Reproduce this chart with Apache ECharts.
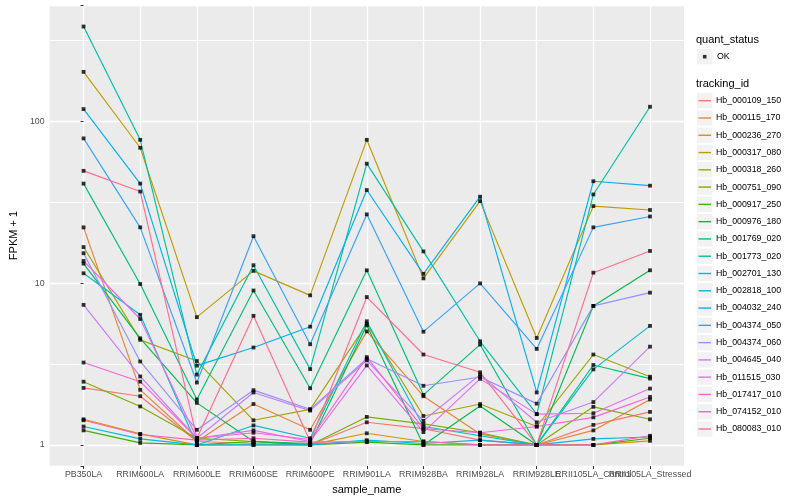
<!DOCTYPE html>
<html>
<head>
<meta charset="utf-8">
<script src="https://cdn.jsdelivr.net/npm/echarts/dist/echarts.min.js"></script>
<style>
  html, body { margin: 0; padding: 0; background: #ffffff; }
  #chart { width: 800px; height: 500px; }
</style>
</head>
<body>
<div id="chart"></div>
<script>
// ---------------- data ----------------
const categories = ['PB350LA', 'RRIM600LA', 'RRIM600LE', 'RRIM600SE', 'RRIM600PE', 'RRIM901LA',
  'RRIM928BA', 'RRIM928LA', 'RRIM928LE', 'RRII105LA_Control', 'RRII105LA_Stressed'];
const yTicks = [1, 10, 100];
const trackingIds = ['Hb_000109_150', 'Hb_000115_170', 'Hb_000236_270', 'Hb_000317_080', 'Hb_000318_260',
  'Hb_000751_090', 'Hb_000917_250', 'Hb_000976_180', 'Hb_001769_020', 'Hb_001773_020', 'Hb_002701_130',
  'Hb_002818_100', 'Hb_004032_240', 'Hb_004374_050', 'Hb_004374_060', 'Hb_004645_040', 'Hb_011515_030',
  'Hb_017417_010', 'Hb_074152_010', 'Hb_080083_010'];
const quantStatus = ['OK'];

// FPKM + 1 per sample (order of categories)
const hb_000109_150 = [2.25, 2.0, 1.05, 1.02, 1.0, 1.38, 1.26, 1.07, 1.0, 1.33, 1.60];
const hb_000115_170 = [22.1, 2.19, 1.05, 1.79, 1.24, 5.03, 2.0, 1.17, 1.0, 1.23, 1.91];
const hb_000236_270 = [1.44, 1.17, 1.0, 1.0, 1.0, 1.18, 1.05, 1.0, 1.0, 1.0, 1.06];
const hb_000317_080 = [202, 68.6, 6.16, 11.9, 8.4, 76.8, 10.7, 32.1, 4.58, 29.9, 28.3];
const hb_000318_260 = [16.7, 4.46, 3.30, 1.42, 1.66, 5.6, 1.51, 1.79, 1.30, 3.62, 2.64];
const hb_000751_090 = [2.46, 1.73, 1.1, 1.05, 1.0, 1.49, 1.35, 1.19, 1.0, 1.72, 1.44];
const hb_000917_250 = [1.23, 1.03, 1.0, 1.05, 1.0, 1.04, 1.0, 1.0, 1.0, 1.0, 1.10];
const hb_000976_180 = [13.2, 4.56, 1.82, 1.05, 1.02, 5.49, 1.0, 1.74, 1.0, 7.23, 12.0];
const hb_001769_020 = [41.2, 9.87, 1.91, 9.0, 2.24, 12.0, 2.04, 4.17, 1.0, 3.12, 2.57];
const hb_001773_020 = [385, 76.8, 2.72, 12.9, 2.94, 54.7, 15.7, 4.37, 1.55, 35.3, 123];
const hb_002701_130 = [11.5, 6.37, 1.0, 1.32, 1.1, 5.81, 1.30, 1.14, 1.0, 2.93, 5.44];
const hb_002818_100 = [1.30, 1.09, 1.0, 1.0, 1.0, 1.07, 1.02, 1.07, 1.0, 1.09, 1.12];
const hb_004032_240 = [119, 41.2, 3.09, 4.0, 5.38, 37.6, 11.4, 34.2, 2.11, 42.6, 40.0];
const hb_004374_050 = [78.4, 22.1, 2.43, 19.5, 4.19, 26.6, 5.01, 9.96, 3.92, 22.1, 25.8];
const hb_004374_060 = [15.3, 3.28, 1.24, 2.18, 1.66, 3.41, 2.32, 2.63, 1.80, 7.23, 8.73];
const hb_004645_040 = [7.34, 2.65, 1.1, 2.11, 1.63, 3.33, 1.41, 2.72, 1.38, 1.84, 4.05];
const hb_011515_030 = [13.7, 6.0, 1.1, 1.23, 1.05, 3.1, 1.2, 2.56, 1.55, 1.57, 2.23];
const hb_017417_010 = [3.23, 2.46, 1.1, 1.19, 1.08, 3.49, 1.26, 1.19, 1.3, 1.48, 1.98];
const hb_074152_010 = [1.42, 1.16, 1.07, 1.1, 1.04, 1.05, 1.05, 1.0, 1.0, 1.0, 1.14];
const hb_080083_010 = [49.4, 36.8, 1.1, 6.28, 1.05, 8.2, 3.62, 2.81, 1.0, 11.6, 15.8];

const seriesValues = [hb_000109_150, hb_000115_170, hb_000236_270, hb_000317_080, hb_000318_260,
  hb_000751_090, hb_000917_250, hb_000976_180, hb_001769_020, hb_001773_020, hb_002701_130,
  hb_002818_100, hb_004032_240, hb_004374_050, hb_004374_060, hb_004645_040, hb_011515_030,
  hb_017417_010, hb_074152_010, hb_080083_010];

// ---------------- style ----------------
const palette = ['#F8766D', '#EA8331', '#D89000', '#C09B00', '#A3A500', '#7CAE00', '#39B600', '#00BB4E',
  '#00BF7D', '#00C1A3', '#00BFC4', '#00BAE0', '#00B0F6', '#35A2FF', '#9590FF', '#C77CFF', '#E76BF3',
  '#FA62DB', '#FF62BC', '#FF6C91'];
const FONT = '"Liberation Sans", Arial, Helvetica, sans-serif';
const GRID = { left: 40, top: 5, width: 644, height: 464 };
const Y_MIN = 0.74, Y_MAX = 523;
const LEG_X = 697;
const LEG_TOP = 100.7;   // centre of first tracking_id key
const LEG_STEP = 17.28;
const OK_Y = 56.7;
const KEY_W = 15.4;

const chart = echarts.init(document.getElementById('chart'), null, { renderer: 'canvas' });

const catIdx = categories.map((c, i) => i);
const lastIdx = categories.length - 1;
// the two last labels overlap; the second-to-last one is put on a helper axis so it is not dropped
const mainLabelIdx = catIdx.filter(i => i !== lastIdx - 1);
const isMajor = v => yTicks.some(t => Math.abs(v - t) < t * 1e-6);
// ggplot minor breaks: half a decade (in log space) between major breaks
const minorBreakValues = yTicks.map(t => t * Math.sqrt(10));

const lineSeries = trackingIds.map((id, k) => ({
  name: id,
  type: 'line',
  data: seriesValues[k].map((v, i) => [i, v]),
  symbol: 'none',
  showSymbol: false,
  lineStyle: { color: palette[k], width: 1.15 },
  itemStyle: { color: palette[k] },
  emphasis: { disabled: true },
  silent: true,
  z: 3
}));

// minor grid lines, positioned through the y scale, drawn beneath the data lines
const minorGridSeries = {
  name: 'minor-grid',
  type: 'custom',
  data: minorBreakValues.map(v => [0, v]),
  encode: { x: 0, y: 1 },
  silent: true,
  z: 2,
  clip: false,
  renderItem: (params, api) => {
    const yRaw = api.coord([0, api.value(1)])[1];
    const y = Math.round(yRaw) + 0.5;
    const cs = params.coordSys;
    return {
      type: 'line',
      z2: 10,
      shape: { x1: cs.x, y1: y, x2: cs.x + cs.width, y2: y },
      style: { stroke: '#FFFFFF', lineWidth: 1, opacity: 1 }
    };
  }
};

const pointData = [];
seriesValues.forEach(arr => arr.forEach((v, i) => pointData.push([i, v])));

// legend key backgrounds and titles
const graphics = [];
graphics.push({ type: 'rect', left: LEG_X, top: OK_Y - KEY_W / 2, z: -1,
  shape: { width: KEY_W, height: KEY_W }, style: { fill: '#F2F2F2' } });
trackingIds.forEach((id, k) => {
  graphics.push({ type: 'rect', left: LEG_X, top: LEG_TOP + k * LEG_STEP - KEY_W / 2, z: -1,
    shape: { width: KEY_W, height: KEY_W }, style: { fill: '#F2F2F2' } });
});
graphics.push({ type: 'text', left: 696, top: 34.5, style: { text: 'quant_status', fill: '#000', font: '11px ' + FONT } });
graphics.push({ type: 'text', left: 696, top: 78.5, style: { text: 'tracking_id', fill: '#000', font: '11px ' + FONT } });

const xLabelStyle = { color: '#4D4D4D', fontSize: 8.8, fontFamily: FONT, margin: 4, hideOverlap: false,
  formatter: v => categories[Math.round(v)] };

const option = {
  backgroundColor: '#ffffff',
  animation: false,
  textStyle: { fontFamily: FONT },
  grid: Object.assign({ show: true, backgroundColor: '#EBEBEB', borderWidth: 0, z: 0 }, GRID),
  xAxis: [
    {
      type: 'value',
      position: 'bottom',
      min: -0.6,
      max: lastIdx + 0.6,
      z: 2,
      name: 'sample_name',
      nameLocation: 'middle',
      nameGap: 13,
      nameTextStyle: { color: '#000', fontSize: 11, fontFamily: FONT, verticalAlign: 'top' },
      axisLine: { show: false },
      axisTick: { show: true, length: 3, customValues: catIdx, lineStyle: { color: '#333333', width: 1 } },
      axisLabel: Object.assign({ show: true, customValues: mainLabelIdx, showMinLabel: true, showMaxLabel: true }, xLabelStyle),
      splitLine: { show: true, lineStyle: { color: '#FFFFFF', width: 1.3 } }
    },
    {
      type: 'value',
      position: 'bottom',
      offset: 0,
      min: -0.6,
      max: lastIdx + 0.6,
      z: 2,
      axisLine: { show: false },
      axisTick: { show: false, customValues: [lastIdx - 1] },
      axisLabel: Object.assign({ show: true, customValues: [lastIdx - 1] }, xLabelStyle),
      splitLine: { show: false }
    }
  ],
  yAxis: {
    type: 'log',
    logBase: 10,
    min: Y_MIN,
    max: Y_MAX,
    z: 2,
    name: 'FPKM + 1',
    nameLocation: 'middle',
    nameGap: 21,
    nameTextStyle: { color: '#000', fontSize: 11, fontFamily: FONT },
    axisLine: { show: false },
    axisTick: { show: true, length: 3, lineStyle: { color: '#333333', width: 1 } },
    axisLabel: { color: '#4D4D4D', fontSize: 8.8, fontFamily: FONT, margin: 5,
      formatter: v => (isMajor(v) ? String(Math.round(v)) : '') },
    splitLine: { show: true, lineStyle: { color: '#FFFFFF', width: 1.3 } }
  },
  legend: [
    {
      data: quantStatus,
      orient: 'vertical',
      left: LEG_X + KEY_W / 2 - 1.8,
      top: OK_Y - 6,
      padding: 0,
      icon: 'rect',
      itemWidth: 3.6,
      itemHeight: 3.6,
      itemGap: 0,
      selectedMode: false,
      textStyle: { color: '#000', fontSize: 8.8, fontFamily: FONT, lineHeight: 12, padding: [0, 0, 0, 5.5] }
    },
    {
      data: trackingIds,
      orient: 'vertical',
      left: LEG_X + 1.5,
      top: LEG_TOP - 6,
      padding: 0,
      icon: 'rect',
      itemWidth: 12.5,
      itemHeight: 1.4,
      itemGap: LEG_STEP - 12,
      selectedMode: false,
      textStyle: { color: '#000', fontSize: 8.8, fontFamily: FONT, lineHeight: 12 }
    }
  ],
  graphic: graphics,
  series: [minorGridSeries].concat(lineSeries).concat([
    {
      name: 'OK',
      type: 'scatter',
      data: pointData,
      symbol: 'rect',
      symbolSize: 3.8,
      itemStyle: { color: '#000000' },
      emphasis: { disabled: true },
      silent: true,
      z: 4
    }
  ])
};

chart.setOption(option);
</script>
</body>
</html>
